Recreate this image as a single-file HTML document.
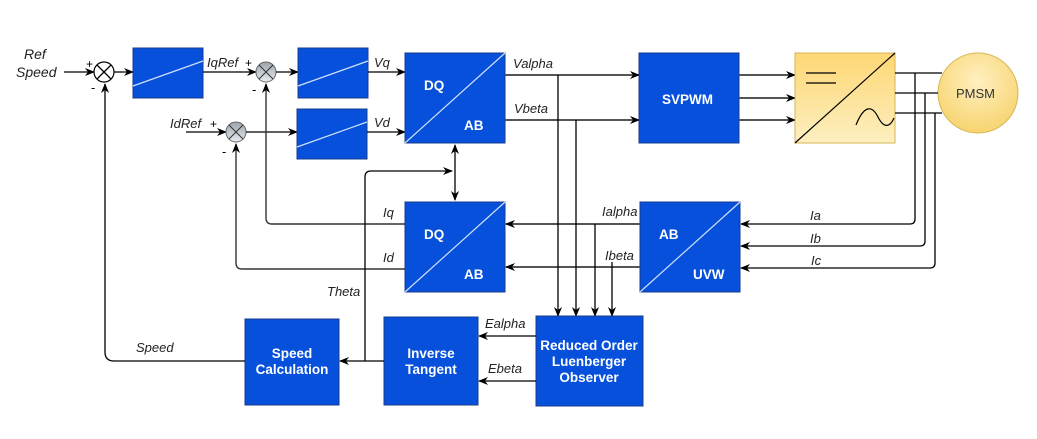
<!DOCTYPE html>
<html><head><meta charset="utf-8"><style>
html,body{margin:0;padding:0;background:#fff;}
svg{display:block;font-family:"Liberation Sans",Arial,sans-serif;}
.b{fill:#0650dc;stroke:#1a3c8c;stroke-width:1;}
.w{fill:#fff;font-weight:bold;font-size:13.5px;}
.l{fill:none;stroke:#000;stroke-width:1.3;}
.g{fill:none;stroke:#555;stroke-width:2;}
.t{font-style:italic;font-size:13px;fill:#222;}
.d{stroke:#cfe0ff;stroke-width:1.2;}
</style></head><body>
<svg width="1037" height="439" viewBox="0 0 1037 439">
<defs>
<marker id="a" markerWidth="10" markerHeight="10" refX="9" refY="5" orient="auto" markerUnits="userSpaceOnUse"><path d="M0,1 L10,5 L0,9 L3,5 Z" fill="#000"/></marker>
<marker id="as" markerWidth="10" markerHeight="10" refX="1" refY="5" orient="auto" markerUnits="userSpaceOnUse"><path d="M10,1 L0,5 L10,9 L7,5 Z" fill="#000"/></marker>
<linearGradient id="y" x1="0" y1="0" x2="0" y2="1"><stop offset="0" stop-color="#fdd774"/><stop offset="1" stop-color="#fdefc0"/></linearGradient>
<radialGradient id="c" cx="0.5" cy="0.35" r="0.7"><stop offset="0" stop-color="#fff0c0"/><stop offset="1" stop-color="#f7d26a"/></radialGradient>
<linearGradient id="gs" x1="0" y1="0" x2="0" y2="1"><stop offset="0" stop-color="#9aa4ad"/><stop offset="1" stop-color="#e8ecef"/></linearGradient>
</defs>

<text class="t" x="24" y="59" font-size="14" style="font-size:14px">Ref</text><text class="t" x="16" y="77" style="font-size:14px">Speed</text>
<line class="l" x1="64" y1="72" x2="94" y2="72" marker-end="url(#a)"/>
<circle cx="104" cy="72" r="10" fill="#fff" stroke="#000" stroke-width="1.2"/>
<path class="l" d="M97,65 L111,79 M111,65 L97,79"/>
<text x="86" y="68" font-size="12">+</text><text x="91" y="92" font-size="13">-</text>
<line class="l" x1="114" y1="72" x2="133" y2="72" marker-end="url(#a)"/>

<rect class="b" x="133" y="48" width="70" height="50"/><line class="d" x1="133" y1="86" x2="203" y2="61"/>
<line class="l" x1="203" y1="72" x2="256" y2="72" marker-end="url(#a)"/>
<text class="t" x="207" y="67">IqRef</text><text x="245" y="67" font-size="12">+</text>
<circle cx="266" cy="72" r="10" fill="url(#gs)" stroke="#666"/>
<path d="M259,65 L273,79 M273,65 L259,79" stroke="#333" stroke-width="1"/>
<text x="252" y="94" font-size="13">-</text>
<line class="l" x1="276" y1="72" x2="298" y2="72" marker-end="url(#a)"/>

<text class="t" x="170" y="128">IdRef</text><text x="210" y="128" font-size="12">+</text>
<line class="l" x1="186" y1="132" x2="226" y2="132" marker-end="url(#a)"/>
<circle cx="236" cy="132" r="10" fill="url(#gs)" stroke="#666"/>
<path d="M229,125 L243,139 M243,125 L229,139" stroke="#333" stroke-width="1"/>
<text x="222" y="156" font-size="13">-</text>
<line class="l" x1="246" y1="132" x2="297" y2="132" marker-end="url(#a)"/>

<rect class="b" x="298" y="48" width="70" height="50"/><line class="d" x1="298" y1="86" x2="368" y2="61"/>
<rect class="b" x="297" y="109" width="70" height="50"/><line class="d" x1="297" y1="147" x2="367" y2="122"/>
<line class="l" x1="368" y1="72" x2="405" y2="72" marker-end="url(#a)"/><text class="t" x="374" y="67">Vq</text>
<line class="l" x1="367" y1="132" x2="405" y2="132" marker-end="url(#a)"/><text class="t" x="374" y="127">Vd</text>

<rect class="b" x="405" y="53" width="100" height="90"/><line class="d" x1="405" y1="143" x2="505" y2="53"/>
<text class="w" x="424" y="90">DQ</text><text class="w" x="464" y="130">AB</text>
<line class="g" x1="505" y1="75" x2="639" y2="75" marker-end="url(#a)"/><text class="t" x="513" y="68">Valpha</text>
<line class="g" x1="505" y1="120" x2="639" y2="120" marker-end="url(#a)"/><text class="t" x="514" y="113">Vbeta</text>

<rect class="b" x="639" y="53" width="100" height="90"/><text class="w" x="662" y="104">SVPWM</text>
<line class="g" x1="739" y1="75" x2="795" y2="75" marker-end="url(#a)"/>
<line class="g" x1="739" y1="98" x2="795" y2="98" marker-end="url(#a)"/>
<line class="g" x1="739" y1="120" x2="795" y2="120" marker-end="url(#a)"/>

<rect x="795" y="53" width="100" height="90" fill="url(#y)" stroke="#d6b656"/>
<line x1="795" y1="143" x2="895" y2="53" stroke="#000" stroke-width="1.2"/>
<path d="M806,73 H836 M806,83 H836" stroke="#000" stroke-width="1.2"/>
<path d="M856,125 C864,105 872,105 878,117 C884,129 890,127 894,118" fill="none" stroke="#000" stroke-width="1.2"/>

<circle cx="978" cy="93" r="40" fill="url(#c)" stroke="#d6b656"/>
<text x="956" y="98" font-size="13" fill="#333">PMSM</text>
<path class="l" d="M895,73 H942 M895,93 H938 M895,113 H942"/>
<path class="l" d="M915,73 V219 Q915,224 910,224 H741" marker-end="url(#a)"/>
<path class="l" d="M925,93 V241 Q925,246 920,246 H741" marker-end="url(#a)"/>
<path class="l" d="M935,113 V263 Q935,268 930,268 H741" marker-end="url(#a)"/>
<text class="t" x="810" y="220">Ia</text><text class="t" x="810" y="243">Ib</text><text class="t" x="811" y="265">Ic</text>

<rect class="b" x="640" y="202" width="100" height="90"/><line class="d" x1="640" y1="292" x2="740" y2="202"/>
<text class="w" x="659" y="239">AB</text><text class="w" x="693" y="279">UVW</text>

<line class="g" x1="640" y1="224" x2="506" y2="224" marker-end="url(#a)"/><text class="t" x="602" y="216">Ialpha</text>
<line class="g" x1="640" y1="267" x2="506" y2="267" marker-end="url(#a)"/><text class="t" x="605" y="260">Ibeta</text>

<path class="l" d="M558,75 V316" marker-end="url(#a)"/>
<path class="l" d="M576,120 V316" marker-end="url(#a)"/>
<path class="l" d="M595,224 V316" marker-end="url(#a)"/>
<path class="l" d="M612,262 V316" marker-end="url(#a)"/>

<rect class="b" x="405" y="202" width="100" height="90"/><line class="d" x1="405" y1="292" x2="505" y2="202"/>
<text class="w" x="424" y="239">DQ</text><text class="w" x="464" y="279">AB</text>
<line class="l" x1="455" y1="145" x2="455" y2="200" marker-start="url(#as)" marker-end="url(#a)"/>

<path class="g" d="M405,224 H272 Q266,224 266,218 V84" style="stroke:#333;stroke-width:1.4" marker-end="url(#a)"/>
<path class="g" d="M405,269 H242 Q236,269 236,263 V144" style="stroke:#333;stroke-width:1.4" marker-end="url(#a)"/>
<text class="t" x="383" y="217">Iq</text><text class="t" x="383" y="262">Id</text>

<rect class="b" x="536" y="316" width="107" height="90"/>
<text class="w" x="589" y="350" text-anchor="middle">Reduced Order</text>
<text class="w" x="589" y="366" text-anchor="middle">Luenberger</text>
<text class="w" x="589" y="382" text-anchor="middle">Observer</text>
<line class="l" x1="536" y1="336" x2="479" y2="336" marker-end="url(#a)"/><text class="t" x="485" y="328">Ealpha</text>
<line class="l" x1="536" y1="381" x2="479" y2="381" marker-end="url(#a)"/><text class="t" x="488" y="373">Ebeta</text>

<rect class="b" x="384" y="317" width="94" height="88"/>
<text class="w" x="431" y="358" text-anchor="middle">Inverse</text><text class="w" x="431" y="374" text-anchor="middle">Tangent</text>
<line class="l" x1="384" y1="361" x2="340" y2="361" marker-end="url(#a)"/>
<path class="l" d="M365,361 V177 Q365,171 371,171 H452" marker-end="url(#a)"/>
<text class="t" x="327" y="296">Theta</text>

<rect class="b" x="245" y="319" width="94" height="86"/>
<text class="w" x="292" y="358" text-anchor="middle">Speed</text><text class="w" x="292" y="374" text-anchor="middle">Calculation</text>
<path class="l" d="M245,361 H114 Q105,361 105,352 V84" marker-end="url(#a)"/>
<text class="t" x="136" y="352">Speed</text>
</svg>
</body></html>
